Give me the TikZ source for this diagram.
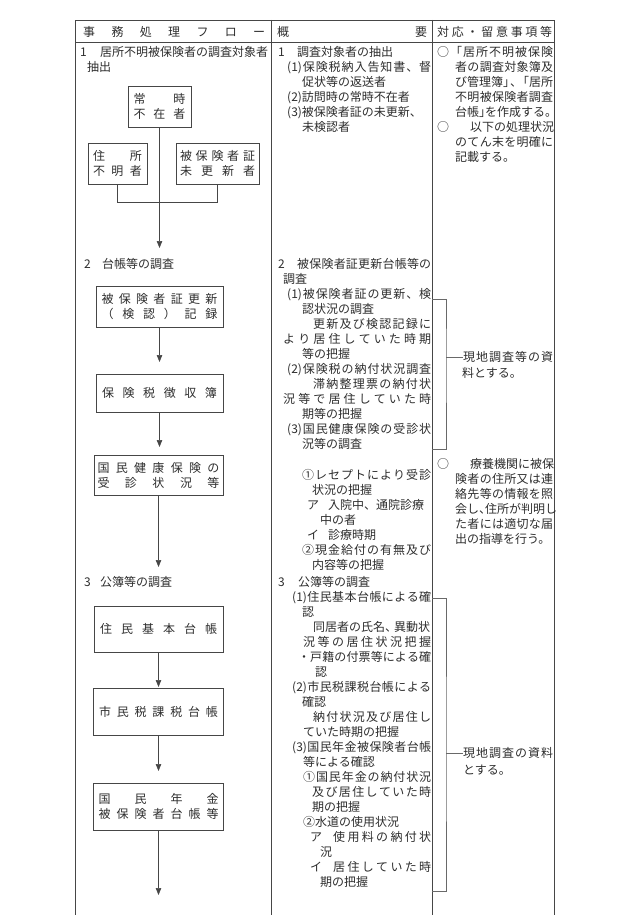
\documentclass[tikz,border=0pt]{standalone}
\usepackage{fontspec}
\setmainfont{Noto Sans CJK JP}
\usetikzlibrary{arrows.meta}
\definecolor{InvInk}{RGB}{45,45,45}
\definecolor{InvRule}{RGB}{70,70,70}
\definecolor{InvGray}{RGB}{105,105,105}
% spread the characters of #2 evenly over the width #1
\newcommand\sprd[2]{\makebox[#1][s]{\expandafter\sprdA#2\relax}}
\def\sprdA#1{#1\sprdB}
\def\sprdB#1{\ifx\relax#1\else\hfil#1\expandafter\sprdB\fi}
\tikzset{
  inv/txt/.style={
    inner sep=0pt,
    anchor=west,
    text height=10.5pt,
    text depth=1.5pt,
    text=InvInk,
    font=\fontsize{12}{15}\selectfont
  },
  inv/box/.style={
    draw=InvRule,
    line width=0.6pt,
    inner sep=0pt,
    align=center,
    text=InvInk,
    font=\fontsize{12}{15}\selectfont
  },
  inv/rule/.style={draw=InvRule, line width=0.7pt},
  inv/line/.style={draw=InvRule, line width=0.6pt},
  inv/brk/.style={draw=InvGray, line width=0.6pt},
  inv/arrow/.style={-{Triangle[length=7pt,width=5.5pt]}, line width=0.6pt, draw=InvRule}
}

\begin{document}
\begin{tikzpicture}[x=1pt,y=-1pt]
  \useasboundingbox (0,0) rectangle (630,915);
  % table
  \draw[inv/rule] (75,915) -- (75,20) -- (554,20) -- (554,915);
  \draw[inv/rule] (75,42) -- (554,42);
  \draw[inv/rule] (271,20) -- (271,915);
  \draw[inv/rule] (432,20) -- (432,915);
  \node[inv/txt] (h1) at (83,32) {\sprd{182pt}{事務処理フロー}};
  \node[inv/txt] (h2) at (277,32) {\sprd{150pt}{概要}};
  \node[inv/txt] (h3) at (437,32) {\sprd{115pt}{対応・留意事項等}};

  % flow column
  \node[inv/txt] (n1) at (80,52) {1};
  \node[inv/txt] (s1) at (100,52) {居所不明被保険者の調査対象者};
  \node[inv/txt] (s1b) at (87,67) {抽出};
  \node[inv/txt] (n2) at (84,264) {2};
  \node[inv/txt] (s2) at (102,264) {台帳等の調査};
  \node[inv/txt] (n3) at (84,582) {3};
  \node[inv/txt] (s3) at (100,582) {公簿等の調査};

  \node[inv/box, minimum width=63pt, minimum height=41pt] (b11) at (159.5,106.5) {\sprd{52pt}{常時}\\\sprd{52pt}{不在者}};
  \node[inv/box, minimum width=59pt, minimum height=41pt] (b12) at (117.5,163.5) {\sprd{49pt}{住所}\\\sprd{49pt}{不明者}};
  \node[inv/box, minimum width=83pt, minimum height=41pt] (b13) at (217.5,163.5) {\sprd{75pt}{被保険者証}\\\sprd{75pt}{未更新者}};
  \node[inv/box, minimum width=127pt, minimum height=41pt] (b21) at (159.5,306.5) {\sprd{116pt}{被保険者証更新}\\\sprd{116pt}{（検認）記録}};
  \node[inv/box, minimum width=127pt, minimum height=38pt] (b22) at (159.5,393) {\sprd{115pt}{保険税徴収簿}};
  \node[inv/box, minimum width=129pt, minimum height=40pt] (b23) at (158.5,475) {\sprd{122pt}{国民健康保険の}\\\sprd{122pt}{受診状況等}};
  \node[inv/box, minimum width=129pt, minimum height=46pt] (b31) at (158.5,629) {\sprd{117pt}{住民基本台帳}};
  \node[inv/box, minimum width=130pt, minimum height=47pt] (b32) at (158.5,711.5) {\sprd{119pt}{市民税課税台帳}};
  \node[inv/box, minimum width=130pt, minimum height=47pt] (b33) at (158.5,806.5) {\sprd{120pt}{国民年金}\\\sprd{120pt}{被保険者台帳等}};

  \coordinate (e1) at (159.5,248);
  \coordinate (e21) at (159.5,362);
  \coordinate (e22) at (159.5,447);
  \coordinate (e23) at (158.5,567);
  \coordinate (e31) at (158.5,687);
  \coordinate (e32) at (158.5,771);
  \coordinate (e33) at (158.5,895);
  \draw[inv/line] (b12.south) -- ++(0,18) -| (b13.south);
  \foreach \a/\bb in {b11/e1,b21/e21,b22/e22,b23/e23,b31/e31,b32/e32,b33/e33}{\draw[inv/arrow] (\a.south) -- (\bb);}

  % outline column
  \foreach \x/\y/\tx in {278/52/1,278/264/2,307/505/ア,307/535/イ,278/582/3,298/657/・,310/837/ア,310/867/イ}
    \node[inv/txt] (c2m\y) at (\x,\y) {\tx};
  \foreach \x/\y/\tx in {297/52/調査対象者の抽出,302/82/促状等の返送者,287/97/(2)訪問時の常時不在者,
      287/112/(3)被保険者証の未更新、,302/127/未検認者,283/279/調査,302/309/認状況の調査,
      302/354/等の把握,302/414/期等の把握,302/444/況等の調査,312/490/状況の把握,
      328/505/入院中、通院診療,320/520/中の者,328/535/診療時期,312/565/内容等の把握,
      298/582/公簿等の調査,302/612/認,313/627/同居者の氏名{、\kern-3pt}異動状,315/672/認,
      302/702/確認,303/732/ていた時期の把握,303/762/等による確認,312/807/期の把握,
      303/822/②水道の使用状況,320/852/況,320/882/期の把握}
    \node[inv/txt] (c2-\y) at (\x,\y) {\tx};
  \foreach \x/\y/\tx in {287/67/{(1)}保険税納入告知書、督,297/264/被保険者証更新台帳等の,
      287/294/{(1)}被保険者証の更新、検,313/324/更新及び検認記録に,283/339/より居住していた時期,
      287/369/{(2)}保険税の納付状況調査,313/384/滞納整理票の納付状,283/399/況等で居住していた時,
      287/429/{(3)}国民健康保険の受診状,302/475/①レセプトにより受診,302/550/②現金給付の有無及び,
      292/597/{(1)}住民基本台帳による確,303/642/況等の居住状況把握,310/657/戸籍の付票等による確,
      292/687/{(2)}市民税課税台帳による,313/717/納付状況及び居住し,292/747/{(3)}国民年金被保険者台帳,
      303/777/①国民年金の納付状況,312/792/及び居住していた時,333/837/使用料の納付状,333/867/居住していた時}
    \node[inv/txt] (c2-\y) at (\x,\y) {\sprd{\dimexpr431pt-\x pt\relax}{\tx}};

  % notes column
  \foreach \y in {52,127,464}
    \node[inv/txt] (c3m\y) at (437,\y) {○};
  \foreach \x/\y/\tx in {455/82/び管理簿」\kern-5pt、\kern-5pt「居所,455/112/台帳」\kern-6pt を作成する。,
      455/157/記載する。,462/373/料とする。,455/509/会し{、\kern-6pt}住所が判明し,
      455/539/出の指導を行う。,463/770/とする。}
    \node[inv/txt] (c3-\y) at (\x,\y) {\tx};
  \foreach \x/\y/\tx in {450/52/「居所不明被保険,455/67/者の調査対象簿及,455/97/不明被保険者調査,
      470/127/以下の処理状況,455/142/のてん末を明確に,463/357/現地調査等の資,470/464/療養機関に被保,
      455/479/険者の住所又は連,455/494/絡先等の情報を照,455/524/た者には適切な届,463/753/現地調査の資料}
    \node[inv/txt] (c3-\y) at (\x,\y) {\sprd{\dimexpr553pt-\x pt\relax}{\tx}};

  % brackets
  \coordinate (br1t) at (432,299);
  \coordinate (br1m) at (446,357);
  \coordinate (br1b) at (432,449);
  \coordinate (br2t) at (432,598);
  \coordinate (br2m) at (446,753);
  \coordinate (br2b) at (432,891);
  \draw[inv/brk] (br1t) -| (br1m) |- (br1b);
  \draw[inv/brk] (br1m) -- (c3-357.west);
  \draw[inv/brk] (br2t) -| (br2m) |- (br2b);
  \draw[inv/brk] (br2m) -- (c3-753.west);
\end{tikzpicture}
\end{document}
